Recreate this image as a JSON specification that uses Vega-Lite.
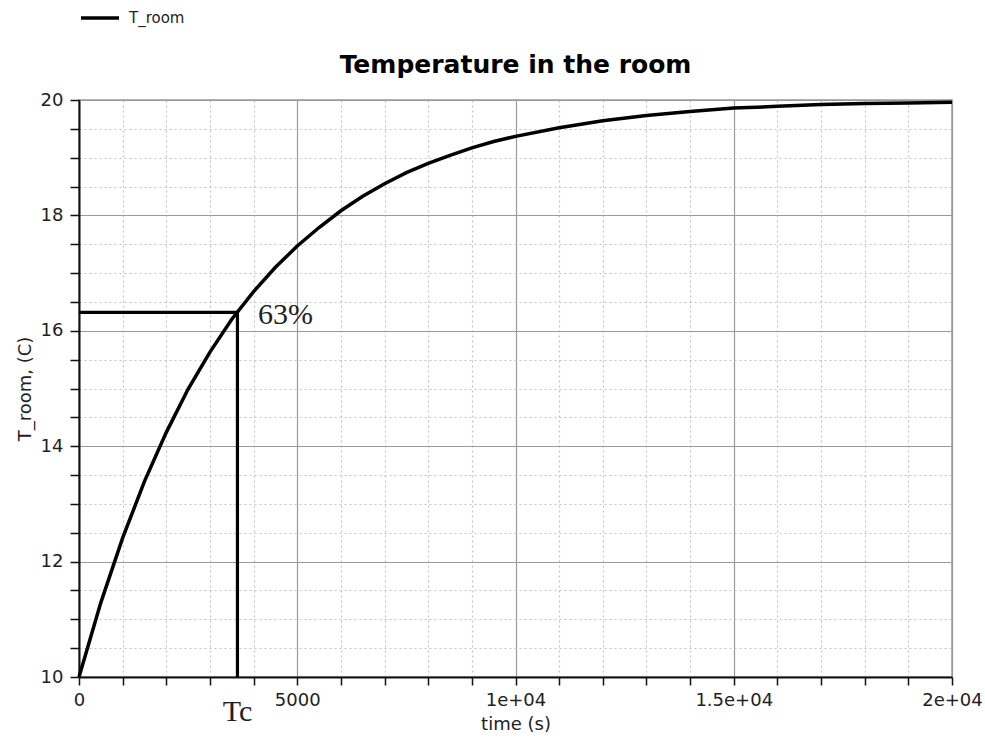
{
  "$schema": "https://vega.github.io/schema/vega-lite/v6.json",
  "width": 873,
  "height": 577,
  "autosize": "none",
  "padding": {"left": 79, "top": 100, "right": 33, "bottom": 68},
  "background": "white",
  "config": {
    "view": {"stroke": "#9a9a9a", "strokeWidth": 1.5},
    "font": "DejaVu Sans"
  },
  "title": {
    "text": "Temperature in the room",
    "font": "DejaVu Sans",
    "fontSize": 25,
    "fontWeight": "bold",
    "color": "black",
    "anchor": "middle",
    "baseline": "alphabetic",
    "offset": 18,
    "dy": 119
  },
  "datasets": {
    "curve": [
      {"t": 0, "T": 10.0, "series": "T_room"},
      {"t": 500, "T": 11.29, "series": "T_room"},
      {"t": 1000, "T": 12.41, "series": "T_room"},
      {"t": 1500, "T": 13.39, "series": "T_room"},
      {"t": 2000, "T": 14.24, "series": "T_room"},
      {"t": 2500, "T": 14.99, "series": "T_room"},
      {"t": 3000, "T": 15.63, "series": "T_room"},
      {"t": 3500, "T": 16.2, "series": "T_room"},
      {"t": 4000, "T": 16.68, "series": "T_room"},
      {"t": 4500, "T": 17.1, "series": "T_room"},
      {"t": 5000, "T": 17.47, "series": "T_room"},
      {"t": 5500, "T": 17.79, "series": "T_room"},
      {"t": 6000, "T": 18.08, "series": "T_room"},
      {"t": 6500, "T": 18.33, "series": "T_room"},
      {"t": 7000, "T": 18.55, "series": "T_room"},
      {"t": 7500, "T": 18.74, "series": "T_room"},
      {"t": 8000, "T": 18.9, "series": "T_room"},
      {"t": 8500, "T": 19.04, "series": "T_room"},
      {"t": 9000, "T": 19.17, "series": "T_room"},
      {"t": 9500, "T": 19.28, "series": "T_room"},
      {"t": 10000, "T": 19.37, "series": "T_room"},
      {"t": 11000, "T": 19.52, "series": "T_room"},
      {"t": 12000, "T": 19.64, "series": "T_room"},
      {"t": 13000, "T": 19.73, "series": "T_room"},
      {"t": 14000, "T": 19.8, "series": "T_room"},
      {"t": 15000, "T": 19.86, "series": "T_room"},
      {"t": 16000, "T": 19.89, "series": "T_room"},
      {"t": 17000, "T": 19.92, "series": "T_room"},
      {"t": 18000, "T": 19.94, "series": "T_room"},
      {"t": 19000, "T": 19.95, "series": "T_room"},
      {"t": 20000, "T": 19.96, "series": "T_room"}
    ],
    "marker": [
      {"t": 0, "T": 16.32, "k": 0},
      {"t": 3630, "T": 16.32, "k": 1},
      {"t": 3630, "T": 10.0, "k": 2}
    ],
    "pct": [{"t": 4100, "T": 16.27, "label": "63%"}],
    "tc": [{"t": 3630, "T": 9.4, "label": "Tc"}]
  },
  "encoding": {
    "x": {
      "field": "t",
      "type": "quantitative",
      "scale": {"domain": [0, 20000], "nice": false, "zero": false},
      "axis": {
        "title": "time (s)",
        "titleFont": "DejaVu Sans",
        "titleFontSize": 18,
        "titleFontWeight": "normal",
        "titleColor": "#222",
        "titlePadding": 6,
        "values": [0,1000,2000,3000,4000,5000,6000,7000,8000,9000,10000,11000,12000,13000,14000,15000,16000,17000,18000,19000,20000],
        "labelExpr": "datum.value == 0 ? '0' : datum.value == 5000 ? '5000' : datum.value == 10000 ? '1e+04' : datum.value == 15000 ? '1.5e+04' : datum.value == 20000 ? '2e+04' : ''",
        "labelFont": "DejaVu Sans",
        "labelFontSize": 18,
        "labelColor": "#222",
        "labelPadding": 6,
        "labelFlush": false,
        "labelOverlap": false,
        "domainColor": "#111",
        "domainWidth": 2,
        "tickColor": "#111",
        "tickSize": 8,
        "tickWidth": 1.5,
        "grid": true,
        "gridColor": {"condition": {"test": "datum.value % 5000 === 0", "value": "#9a9a9a"}, "value": "#c4c4c4"},
        "gridDash": {"condition": {"test": "datum.value % 5000 === 0", "value": []}, "value": [2, 3]},
        "gridWidth": 1.2
      }
    },
    "y": {
      "field": "T",
      "type": "quantitative",
      "scale": {"domain": [10, 20], "nice": false, "zero": false},
      "axis": {
        "title": "T_room, (C)",
        "titleFont": "DejaVu Sans",
        "titleFontSize": 18,
        "titleFontWeight": "normal",
        "titleColor": "#222",
        "titlePadding": 6,
        "values": [10,10.5,11,11.5,12,12.5,13,13.5,14,14.5,15,15.5,16,16.5,17,17.5,18,18.5,19,19.5,20],
        "labelExpr": "datum.value % 2 === 0 ? format(datum.value, 'd') : ''",
        "labelFont": "DejaVu Sans",
        "labelFontSize": 18,
        "labelColor": "#222",
        "labelPadding": 7,
        "labelFlush": false,
        "labelOverlap": false,
        "domainColor": "#111",
        "domainWidth": 2,
        "tickColor": "#111",
        "tickSize": 9,
        "tickWidth": 1.5,
        "grid": true,
        "gridColor": {"condition": {"test": "datum.value % 2 === 0", "value": "#9a9a9a"}, "value": "#c4c4c4"},
        "gridDash": {"condition": {"test": "datum.value % 2 === 0", "value": []}, "value": [2, 3]},
        "gridWidth": 1.2
      }
    }
  },
  "layer": [
    {
      "data": {"name": "curve"},
      "mark": {"type": "line", "strokeWidth": 3.5, "clip": false},
      "encoding": {
        "color": {
          "field": "series",
          "type": "nominal",
          "scale": {"range": ["black"]},
          "legend": {
            "title": null,
            "orient": "none",
            "legendX": 0,
            "legendY": -103,
            "symbolType": "stroke",
            "symbolSize": 1444,
            "symbolStrokeWidth": 3.5,
            "labelFont": "DejaVu Sans",
            "labelFontSize": 15,
            "labelColor": "#222",
            "labelOffset": 8
          }
        }
      }
    },
    {
      "data": {"name": "marker"},
      "mark": {"type": "line", "color": "black", "strokeWidth": 3.2, "clip": false},
      "encoding": {"order": {"field": "k", "type": "quantitative"}}
    },
    {
      "data": {"name": "pct"},
      "mark": {"type": "text", "font": "Liberation Serif", "fontSize": 30, "align": "left", "baseline": "middle", "color": "#222"},
      "encoding": {"text": {"field": "label"}}
    },
    {
      "data": {"name": "tc"},
      "mark": {"type": "text", "font": "Liberation Serif", "fontSize": 30, "align": "center", "baseline": "middle", "color": "#222", "clip": false},
      "encoding": {"text": {"field": "label"}}
    }
  ]
}
